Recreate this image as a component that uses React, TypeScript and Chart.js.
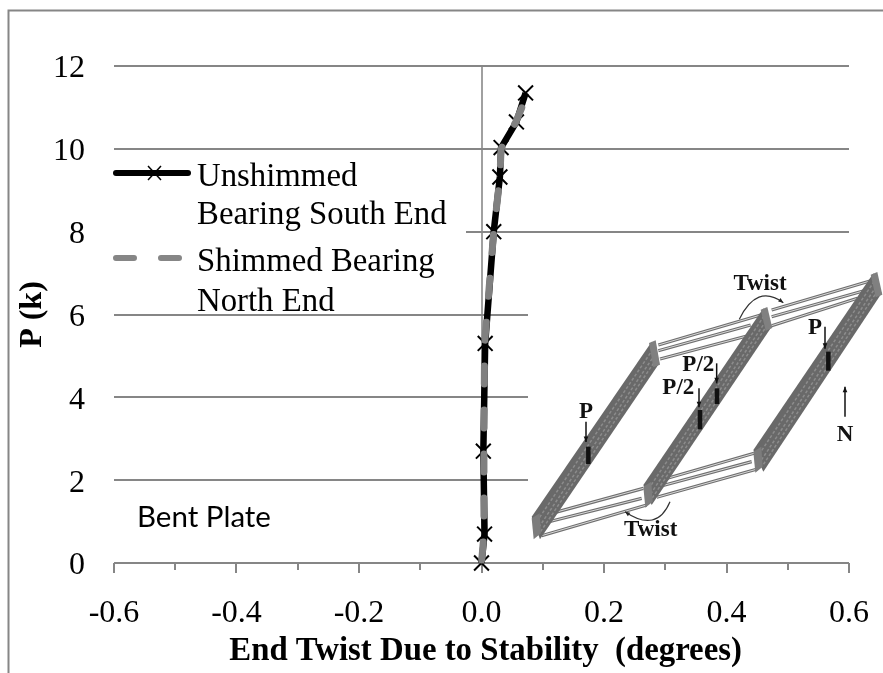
import React, { useEffect, useRef } from "react";
import { Chart, registerables } from "chart.js";

Chart.register(...registerables);

const unshimmedTwist = [0, 0.005, 0.003, 0.006, 0.02, 0.03, 0.032, 0.057, 0.072];
const unshimmedLoad = [0, 0.7, 2.7, 5.3, 8.0, 9.32, 10.03, 10.65, 11.35];
const shimmedTwist = [0, 0.004, 0.004, 0.005, 0.02, 0.03, 0.032, 0.056, 0.066];
const shimmedLoad = [0, 0.7, 2.7, 5.3, 8.0, 9.3, 10.0, 10.65, 11.0];
const minorTicks = [-0.5, -0.3, -0.1, 0.1, 0.3, 0.5];
const legendUnshimmed = ["Unshimmed", "Bearing South End"];
const legendShimmed = ["Shimmed Bearing", "North End"];
const xTitle = "End Twist Due to Stability  (degrees)";
const yTitle = "P (k)";
const noteText = "Bent Plate";
const insetTwist = "Twist";
const insetLoad = "P";
const insetHalfLoad = "P/2";
const insetNorth = "N";

const GRID = "#868686";
const AXIS = "#a0a0a0";
const SERIF = "'Liberation Serif'";

function drawInset(ctx: CanvasRenderingContext2D) {
  const X = (z: number) => 500 + z / 3;
  const Y = (z: number) => 260 + z / 3;
  const poly = (pts: number[][], fill: string) => {
    ctx.beginPath();
    pts.forEach(([a, b], i) => (i ? ctx.lineTo(X(a), Y(b)) : ctx.moveTo(X(a), Y(b))));
    ctx.closePath();
    ctx.fillStyle = fill;
    ctx.fill();
  };
  const seg = (a: number, b: number, c: number, d: number, color: string, w: number) => {
    ctx.beginPath();
    ctx.moveTo(X(a), Y(b));
    ctx.lineTo(X(c), Y(d));
    ctx.strokeStyle = color;
    ctx.lineWidth = w;
    ctx.stroke();
  };
  const arrow = (a: number, b: number, c: number, d: number) => {
    seg(a, b, c, d, "#111", 1.5);
    const t = Math.atan2(d - b, c - a);
    const s = 18;
    poly(
      [
        [c, d],
        [c - s * Math.cos(t - 0.4), d - s * Math.sin(t - 0.4)],
        [c - s * Math.cos(t + 0.4), d - s * Math.sin(t + 0.4)],
      ],
      "#111"
    );
  };
  const curve = (a: number, b: number, cx: number, cy: number, c: number, d: number) => {
    ctx.beginPath();
    ctx.moveTo(X(a), Y(b));
    ctx.quadraticCurveTo(X(cx), Y(cy), X(c), Y(d));
    ctx.strokeStyle = "#333";
    ctx.lineWidth = 1.2;
    ctx.stroke();
    const t = Math.atan2(d - cy, c - cx);
    const s = 16;
    poly(
      [
        [c, d],
        [c - s * Math.cos(t - 0.4), d - s * Math.sin(t - 0.4)],
        [c - s * Math.cos(t + 0.4), d - s * Math.sin(t + 0.4)],
      ],
      "#222"
    );
  };

  ctx.save();
  ctx.fillStyle = "#fff";
  ctx.fillRect(528, 240, 355, 315);
  ctx.filter = "blur(0.6px)";

  const struts = [
    [475, 255, 782, 165],
    [475, 272, 752, 195],
    [480, 297, 752, 225],
    [815, 150, 1120, 60],
    [815, 170, 1100, 90],
    [815, 197, 1072, 115],
    [100, 775, 430, 685],
    [120, 792, 425, 715],
    [125, 827, 440, 735],
    [450, 670, 762, 580],
    [450, 687, 755, 605],
    [470, 712, 772, 627],
  ];
  struts.forEach(([a, b, c, d]) => {
    seg(a, b, c, d, "#6f6f6f", 3.2);
    seg(a, b, c, d, "#d8d8d8", 1);
  });

  const girders = [
    [95, 770, 455, 245, 478, 310, 120, 838],
    [430, 675, 790, 145, 815, 200, 455, 735],
    [760, 570, 1120, 40, 1145, 100, 790, 635],
  ];
  girders.forEach(([a, b, c, d, e, f, g, h]) => {
    poly(
      [
        [a, b],
        [c, d],
        [e, f],
        [g, h],
      ],
      "#696969"
    );
    ctx.setLineDash([3, 2]);
    [0.3, 0.55, 0.75].forEach((k) => {
      seg(
        a + (g - a) * k + 8,
        b + (h - b) * k - 6,
        c + (e - c) * k - 3,
        d + (f - d) * k + 3,
        "#8c8c8c",
        1.5
      );
    });
    ctx.setLineDash([]);
    poly(
      [
        [a, b + 5],
        [a + 24, b - 10],
        [a + 28, b + 50],
        [a + 6, b + 68],
      ],
      "#7c7c7c"
    );
    poly(
      [
        [c - 8, d + 4],
        [c + 12, d - 4],
        [e + 2, f + 4],
        [e - 18, f + 12],
      ],
      "#808080"
    );
  });

  const pads = [
    [265, 560, 612],
    [600, 450, 508],
    [651, 385, 432],
    [985, 275, 332],
  ];
  pads.forEach(([a, b, c]) => seg(a, b, a, c, "#111", 4.5));

  arrow(258, 485, 258, 546);
  arrow(597, 385, 597, 442);
  arrow(650, 310, 650, 370);
  arrow(975, 200, 975, 266);
  arrow(1035, 470, 1035, 380);
  curve(718, 178, 770, 70, 850, 128);
  curve(510, 725, 470, 820, 375, 755);

  ctx.filter = "none";
  ctx.fillStyle = "#111";
  ctx.textAlign = "center";
  ctx.textBaseline = "middle";
  ctx.font = `bold 23px ${SERIF}`;
  ctx.fillText(insetTwist, X(780), Y(72));
  ctx.fillText(insetTwist, X(452), Y(810));
  ctx.fillText(insetHalfLoad, X(595), Y(315));
  ctx.fillText(insetHalfLoad, X(535), Y(385));
  ctx.fillText(insetLoad, X(258), Y(455));
  ctx.fillText(insetLoad, X(945), Y(205));
  ctx.fillText(insetNorth, X(1035), Y(525));
  ctx.restore();
}

function drawLegend(ctx: CanvasRenderingContext2D) {
  ctx.save();
  ctx.fillStyle = "#fff";
  ctx.fillRect(105, 155, 361, 150);

  ctx.lineCap = "round";
  ctx.strokeStyle = "#000";
  ctx.lineWidth = 6;
  ctx.beginPath();
  ctx.moveTo(116, 173);
  ctx.lineTo(188, 173);
  ctx.stroke();
  ctx.lineCap = "butt";
  ctx.lineWidth = 1.5;
  ctx.beginPath();
  ctx.moveTo(148, 166);
  ctx.lineTo(161, 180);
  ctx.moveTo(161, 166);
  ctx.lineTo(148, 180);
  ctx.stroke();

  ctx.lineCap = "round";
  ctx.strokeStyle = "#868686";
  ctx.lineWidth = 6;
  ctx.beginPath();
  ctx.moveTo(116, 258);
  ctx.lineTo(134, 258);
  ctx.moveTo(161, 258);
  ctx.lineTo(179, 258);
  ctx.stroke();

  ctx.fillStyle = "#000";
  ctx.textAlign = "left";
  ctx.textBaseline = "alphabetic";
  ctx.font = `32.8px ${SERIF}`;
  ctx.fillText(legendUnshimmed[0], 197, 186);
  ctx.fillText(legendUnshimmed[1], 197, 224);
  ctx.fillText(legendShimmed[0], 197, 271);
  ctx.fillText(legendShimmed[1], 197, 311);
  ctx.restore();
}

const overlays = {
  id: "overlays",
  beforeDatasetsDraw(chart: any) {
    const ctx = chart.ctx as CanvasRenderingContext2D;
    const x = chart.scales.x;
    const y0 = chart.scales.y.getPixelForValue(0);
    ctx.save();
    ctx.strokeStyle = GRID;
    ctx.lineWidth = 2;
    minorTicks.forEach((v) => {
      const px = Math.round(x.getPixelForValue(v));
      ctx.beginPath();
      ctx.moveTo(px, y0);
      ctx.lineTo(px, y0 + 7);
      ctx.stroke();
    });
    ctx.beginPath();
    ctx.moveTo(8.5, 673);
    ctx.lineTo(8.5, 10.5);
    ctx.lineTo(883, 10.5);
    ctx.stroke();
    ctx.restore();
    drawLegend(ctx);
    drawInset(ctx);
    ctx.save();
    ctx.fillStyle = "#000";
    ctx.font = "29.5px Lato";
    ctx.textBaseline = "middle";
    ctx.textAlign = "left";
    ctx.fillText(noteText, 137, 517);
    ctx.restore();
  },
};

export default function App() {
  const ref = useRef<HTMLCanvasElement>(null);
  useEffect(() => {
    const chart = new Chart(ref.current!, {
      type: "line",
      data: {
        datasets: [
          {
            label: "Unshimmed Bearing South End",
            data: unshimmedTwist.map((v, i) => ({ x: v, y: unshimmedLoad[i] })),
            borderColor: "#000",
            backgroundColor: "#000",
            borderWidth: 6.5,
            pointStyle: "crossRot",
            pointRadius: 10.5,
            pointBorderColor: "#000",
            pointBorderWidth: 2,
            tension: 0,
            clip: false,
            order: 2,
          },
          {
            label: "Shimmed Bearing North End",
            data: shimmedTwist.map((v, i) => ({ x: v, y: shimmedLoad[i] })),
            borderColor: "#808080",
            borderWidth: 7,
            borderDash: [18, 26],
            borderDashOffset: -3,
            borderCapStyle: "round",
            pointRadius: 0,
            tension: 0,
            clip: false,
            order: 1,
          },
        ],
      },
      options: {
        responsive: false,
        animation: false,
        parsing: false,
        layout: { padding: { left: 8, right: 34, top: 66, bottom: 0 } },
        plugins: { legend: { display: false }, tooltip: { enabled: false }, title: { display: false } },
        scales: {
          x: {
            type: "linear",
            min: -0.6,
            max: 0.6,
            afterFit: (s: any) => {
              s.height = 110;
              s.paddingLeft = 0;
              s.paddingRight = 0;
            },
            border: { display: false },
            grid: {
              lineWidth: 2,
              tickLength: 10,
              tickColor: GRID,
              color: (c: any) => (Math.abs(c.tick?.value ?? 1) < 1e-9 ? AXIS : "rgba(0,0,0,0)"),
            },
            ticks: {
              stepSize: 0.2,
              autoSkip: false,
              maxRotation: 0,
              padding: 21,
              color: "#000",
              font: { family: "Liberation Serif", size: 32 },
              callback: (v: any) => (Math.abs(v) < 1e-9 ? 0 : v).toFixed(1),
            },
            title: {
              display: true,
              text: " " + xTitle,
              color: "#000",
              font: { family: "Liberation Serif", size: 32.8, weight: "bold" },
              padding: { top: 2, bottom: 2 },
            },
          },
          y: {
            type: "linear",
            min: 0,
            max: 12,
            afterFit: (s: any) => {
              s.width = 106;
              s.paddingTop = 0;
              s.paddingBottom = 0;
            },
            border: { display: false },
            grid: { lineWidth: 2, color: GRID, drawTicks: false },
            ticks: {
              stepSize: 2,
              padding: 29,
              labelOffset: 3,
              color: "#000",
              font: { family: "Liberation Serif", size: 32 },
            },
            title: {
              display: true,
              text: yTitle,
              color: "#000",
              font: { family: "Liberation Serif", size: 32, weight: "bold" },
              padding: { top: 6, bottom: 6 },
            },
          },
        },
      },
      plugins: [overlays],
    } as any);
    return () => chart.destroy();
  }, []);
  return (
    <div style={{ position: "absolute", left: 0, top: 0, width: 883, height: 673, background: "#fff" }}>
      <canvas ref={ref} width={883} height={673} style={{ display: "block" }} />
    </div>
  );
}
